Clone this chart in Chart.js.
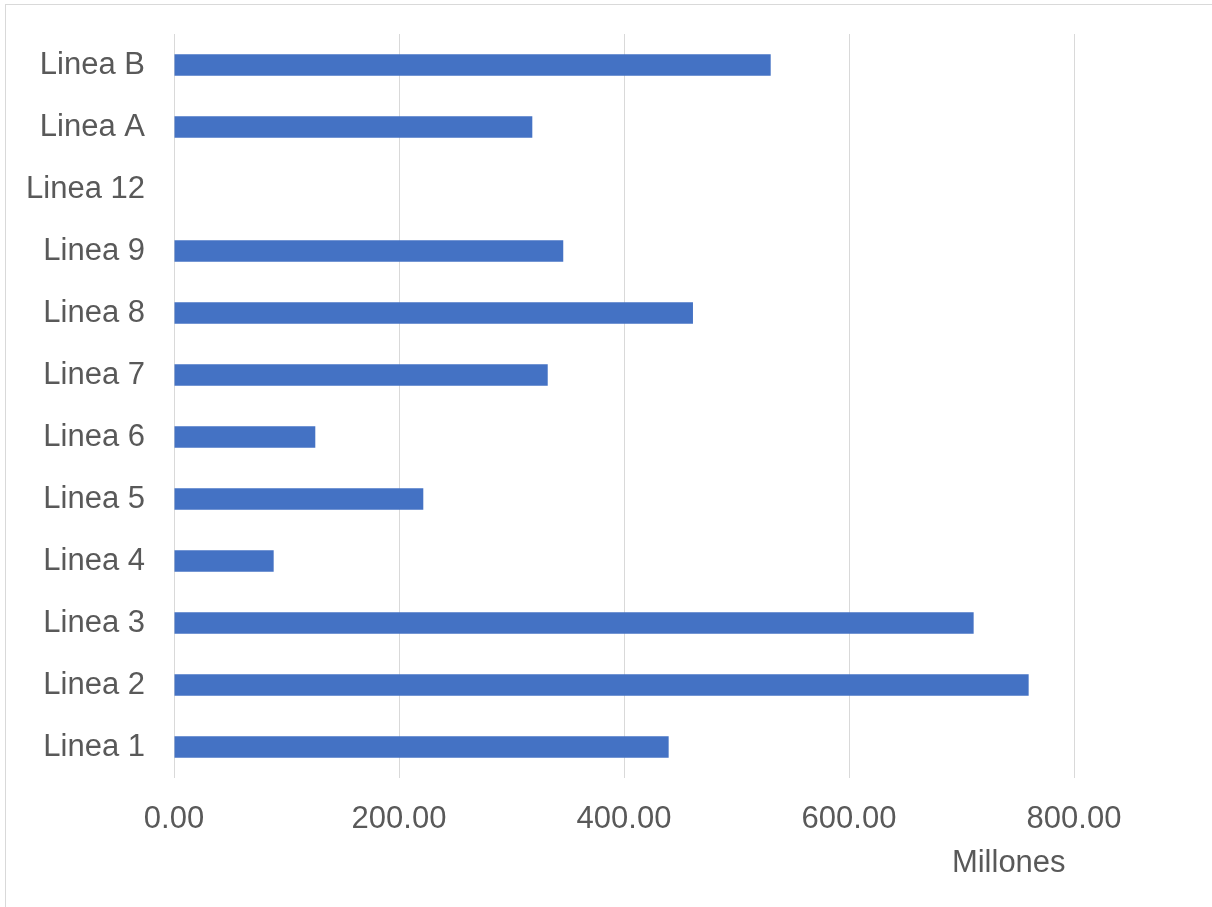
<!DOCTYPE html>
<html>
<head>
<meta charset="utf-8">
<script src="https://cdn.jsdelivr.net/npm/chart.js@4.4.1/dist/chart.umd.min.js"></script>
<style>
  html, body { margin: 0; padding: 0; background: #fff; overflow: hidden; }
  #wrap { position: relative; width: 1212px; height: 907px; }
  #frame { position: absolute; left: 5px; top: 4px; width: 1300px; height: 1000px;
           border-left: 1px solid #d9d9d9; border-top: 1px solid #d9d9d9; pointer-events: none; }
  canvas { position: absolute; left: 0; top: 0; }
</style>
</head>
<body>
<div id="wrap">
  <canvas id="c" width="1212" height="907"></canvas>
  <div id="frame"></div>
</div>
<script>
const categories = ['Linea B', 'Linea A', 'Linea 12', 'Linea 9', 'Linea 8', 'Linea 7', 'Linea 6', 'Linea 5', 'Linea 4', 'Linea 3', 'Linea 2', 'Linea 1'];
const values = [530.4, 318.5, 0, 346, 461.3, 332.2, 125.6, 221.6, 88.6, 710.8, 759.7, 439.7];
const xTickValues = [0, 200, 400, 600, 800];
const unitLabel = 'Millones';

const FONT = '"Liberation Sans", Arial, sans-serif';
const TEXT = '#595959';

const unitPlugin = {
  id: 'unitLabel',
  afterDraw(chart) {
    const ctx = chart.ctx;
    const xs = chart.scales.x;
    ctx.save();
    ctx.font = '31px ' + FONT;
    ctx.fillStyle = TEXT;
    ctx.textAlign = 'center';
    ctx.textBaseline = 'alphabetic';
    ctx.fillText(unitLabel, xs.getPixelForValue(742), chart.chartArea.bottom + 94);
    ctx.restore();
  }
};

new Chart(document.getElementById('c'), {
  type: 'bar',
  data: {
    labels: categories,
    datasets: [{
      data: values,
      backgroundColor: '#4472C4',
      borderWidth: 0,
      categoryPercentage: 1,
      barPercentage: 0.35
    }]
  },
  options: {
    indexAxis: 'y',
    responsive: false,
    animation: false,
    devicePixelRatio: 1,
    layout: { padding: { left: 0, top: 34, right: 25.5, bottom: 0 } },
    plugins: { legend: { display: false }, tooltip: { enabled: false }, title: { display: false } },
    scales: {
      y: {
        grid: { display: false, drawTicks: false },
        border: { display: false },
        ticks: { color: TEXT, font: { family: FONT, size: 31 }, padding: 29 },
        afterFit(scale) {
          scale.width = 174;
          scale.paddingTop = 0;
          scale.paddingBottom = 0;
        }
      },
      x: {
        min: 0,
        max: 900,
        grid: { color: '#d9d9d9', lineWidth: 1, drawTicks: false },
        border: { display: false },
        ticks: {
          stepSize: 200,
          color: TEXT,
          font: { family: FONT, size: 31 },
          padding: 23,
          callback: (v) => Number(v).toFixed(2)
        },
        afterBuildTicks(scale) {
          scale.ticks = xTickValues.map(v => ({ value: v }));
        },
        afterFit(scale) {
          scale.height = 907 - 34 - 744;
          scale.paddingLeft = 0;
          scale.paddingRight = 0;
        }
      }
    }
  },
  plugins: [unitPlugin]
});
</script>
</body>
</html>
